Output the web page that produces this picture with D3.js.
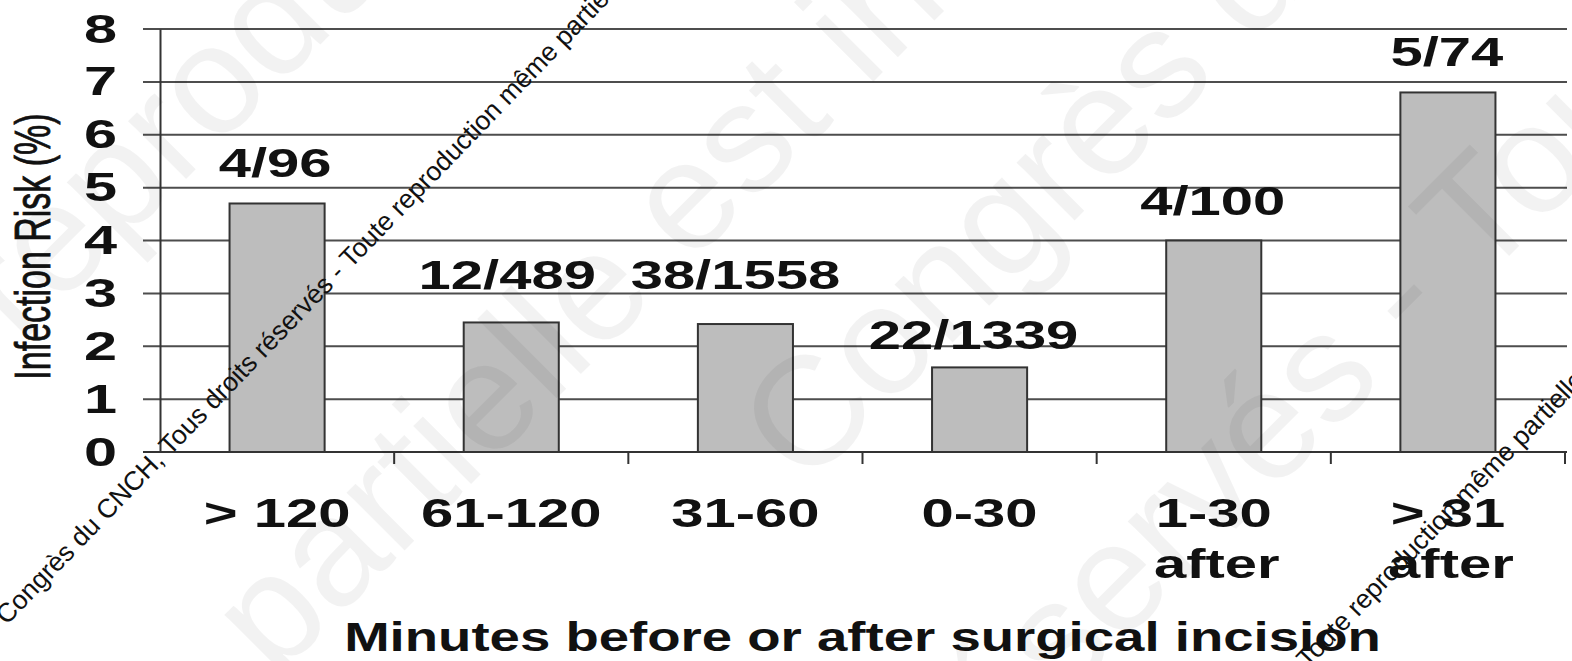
<!DOCTYPE html>
<html>
<head>
<meta charset="utf-8">
<script src="https://cdn.jsdelivr.net/npm/d3@7"></script>
<style>
  html, body { margin: 0; padding: 0; background: #fff; }
  svg { display: block; }
  text { font-family: "Liberation Sans", Arial, sans-serif; }
</style>
</head>
<body>
<svg id="chart" width="1572" height="661"></svg>
<script>
// ---- data ----
const categories = ["> 120", "61-120", "31-60", "0-30", "1-30\nafter", "> 31\nafter"];
const values = [4.7, 2.45, 2.42, 1.6, 4.0, 6.8];
const barLabels = ["4/96", "12/489", "38/1558", "22/1339", "4/100", "5/74"];
const yTicks = [0, 1, 2, 3, 4, 5, 6, 7, 8];
const yTitle = "Infection Risk (%)";
const xTitle = "Minutes before or after surgical incision";
const watermark = "© Congrès du CNCH, Tous droits réservés - Toute reproduction même partielle est interdite";

// ---- layout (not data) ----
const W = 1572, H = 661;
const plot = { left: 160, right: 1565, top: 29, bottom: 452, gridLeft: 143, gridRight: 1567 };
const sx = 1.45; // horizontal text stretch of original picture
const labelNudge = [[-2, 0], [-4, -7], [-10, -9], [-6, 8], [-1, 0], [-1, 0]];

const svg = d3.select("#chart");
svg.append("rect").attr("width", W).attr("height", H).attr("fill", "#fff");

const x = d3.scaleBand().domain(categories).range([plot.left, plot.right])
  .paddingInner(0.594).paddingOuter(0.297);
const y = d3.scaleLinear().domain([0, 8]).range([plot.bottom, plot.top]);

// gridlines
svg.append("g").selectAll("line").data(yTicks.filter(d => d > 0)).join("line")
  .attr("x1", plot.gridLeft).attr("x2", plot.gridRight)
  .attr("y1", d => y(d)).attr("y2", d => y(d))
  .attr("stroke", "#4d4d4d").attr("stroke-width", 2);

// bars
svg.append("g").selectAll("rect").data(values).join("rect")
  .attr("x", (d, i) => x(categories[i]))
  .attr("width", x.bandwidth())
  .attr("y", d => y(d))
  .attr("height", d => y(0) - y(d))
  .attr("fill", "#bdbdbd").attr("stroke", "#333").attr("stroke-width", 2);

// y axis (line + labels via d3 axis)
const yAxis = d3.axisLeft(y).tickValues(yTicks).tickSize(0).tickPadding(0).tickFormat(d3.format("d"));
const gy = svg.append("g").attr("transform", `translate(${plot.left},0)`).call(yAxis);
gy.select(".domain").attr("stroke", "#333").attr("stroke-width", 2);
gy.selectAll(".tick text").each(function () {
  const t = d3.select(this);
  t.attr("x", null).attr("dy", null).attr("text-anchor", "end")
    .attr("font-size", 41).attr("font-weight", "bold").attr("fill", "#111")
    .attr("transform", `translate(${117 - plot.left},13) scale(${sx},1)`);
});

// x axis baseline
svg.append("line").attr("x1", plot.gridLeft).attr("x2", plot.gridRight)
  .attr("y1", y(0)).attr("y2", y(0)).attr("stroke", "#333").attr("stroke-width", 2);
// boundary ticks
const step = x.step();
svg.append("g").selectAll("line").data(categories).join("line")
  .attr("x1", d => x(d) + x.bandwidth() + step * x.paddingInner() / 2)
  .attr("x2", d => x(d) + x.bandwidth() + step * x.paddingInner() / 2)
  .attr("y1", y(0)).attr("y2", y(0) + 12)
  .attr("stroke", "#333").attr("stroke-width", 2);

// category labels
const gx = svg.append("g");
categories.forEach((c, i) => {
  const cx = x(c) + x.bandwidth() / 2;
  c.split("\n").forEach((line, j) => {
    gx.append("text").text(line)
      .attr("text-anchor", "middle").attr("font-size", 40).attr("font-weight", "bold").attr("fill", "#111")
      .attr("transform", `translate(${cx + (j ? 3 : 0)},${527 + j * 51}) scale(${sx},1)`);
  });
});

// bar value labels
svg.append("g").selectAll("text").data(barLabels).join("text")
  .text(d => d)
  .attr("text-anchor", "middle").attr("font-size", 40).attr("font-weight", "bold").attr("fill", "#111")
  .attr("transform", (d, i) => {
    const cx = x(categories[i]) + x.bandwidth() / 2 + labelNudge[i][0];
    const cy = y(values[i]) - 26 + labelNudge[i][1];
    return `translate(${cx},${cy}) scale(${sx},1)`;
  });

// axis titles
svg.append("text").text(xTitle)
  .attr("text-anchor", "middle").attr("font-size", 40).attr("font-weight", "bold").attr("fill", "#111")
  .attr("transform", `translate(${(plot.left + plot.right) / 2},651) scale(1.364,1)`);
svg.append("text").text(yTitle)
  .attr("text-anchor", "middle").attr("font-size", 34).attr("fill", "#111")
  .attr("stroke", "#111").attr("stroke-width", 0.6)
  .attr("transform", `translate(50,${(plot.top + plot.bottom) / 2 + 6}) scale(${sx},1) rotate(-90)`);

// big faint watermark overlay
const big = svg.append("g").attr("fill", "#000").attr("fill-opacity", 0.05)
  .attr("font-size", 155);
[["reproduction même partielle", 20, 345],
 ["partielle est interdite", 275, 680],
 ["Congrès du CNCH", 805, 490],
 ["réservés - Toute", 965, 800]].forEach(([t, px, py]) => {
  big.append("text").text(t).attr("transform", `translate(${px},${py}) rotate(-45)`);
});

// small black watermark text
const small = svg.append("g").attr("fill", "#111").attr("font-size", 26.5);
[[-12, 645], [945, 1045]].forEach(([px, py]) => {
  small.append("text").text(watermark).attr("transform", `translate(${px},${py}) rotate(-46)`);
});
</script>
</body>
</html>
